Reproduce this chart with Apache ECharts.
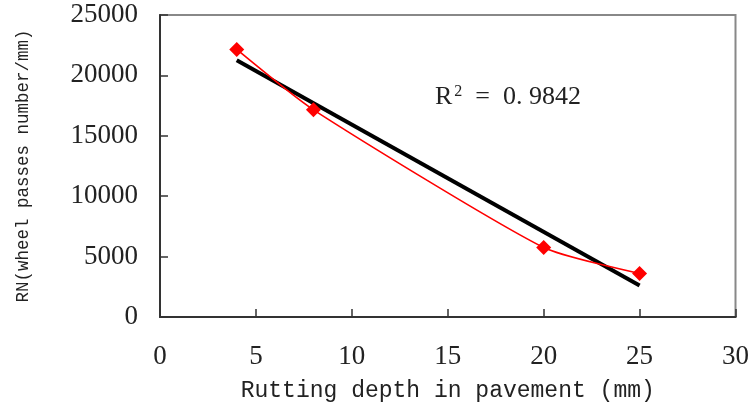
<!DOCTYPE html>
<html>
<head>
<meta charset="utf-8">
<script src="https://cdn.jsdelivr.net/npm/echarts@6/dist/echarts.min.js"></script>
<style>html,body{margin:0;padding:0;background:#fff;}#c{width:752px;height:409px;}</style>
</head>
<body>
<div id="c"></div>
<script>
var depth = [4, 8, 20, 25];
var passes = [22150, 17150, 5750, 3600];
var trendX = [4, 25];
var trendY = [21250, 2600];
var xTicks = [0, 30, 5];
var yTicks = [0, 25000, 5000];
var r2Text = '0. 9842';

var chart = echarts.init(document.getElementById('c'));
chart.setOption({
  animation: false,
  grid: { left: 160, right: 15, top: 15, bottom: 92, show: true, borderColor: '#888', borderWidth: 2 },
  xAxis: {
    type: 'value', min: xTicks[0], max: xTicks[1], interval: xTicks[2],
    name: 'Rutting depth in pavement (mm)', nameLocation: 'middle', nameGap: 62,
    nameTextStyle: { fontFamily: 'Liberation Mono', fontSize: 23, color: '#222' },
    axisLine: { lineStyle: { color: '#333', width: 2 } },
    axisTick: { inside: true, length: 8, lineStyle: { color: '#333', width: 1.5 } },
    axisLabel: { margin: 26, fontFamily: 'Liberation Serif', fontSize: 27, color: '#222' },
    splitLine: { show: false }
  },
  yAxis: {
    type: 'value', min: yTicks[0], max: yTicks[1], interval: yTicks[2],
    name: 'RN(wheel passes number/mm)', nameLocation: 'middle', nameGap: 128,
    nameTextStyle: { fontFamily: 'Liberation Mono', fontSize: 17.5, color: '#222' },
    axisLine: { lineStyle: { color: '#333', width: 2 } },
    axisTick: { inside: true, length: 8, lineStyle: { color: '#333', width: 1.5 } },
    axisLabel: { margin: 22, fontFamily: 'Liberation Serif', fontSize: 27, color: '#222',
      formatter: function (v) { return String(v); } },
    splitLine: { show: false }
  },
  series: [
    {
      type: 'line', data: depth.map(function (d, i) { return [d, passes[i]]; }),
      smooth: 0.2, symbol: 'diamond', symbolSize: 15,
      lineStyle: { color: '#ff0000', width: 1.6 },
      itemStyle: { color: '#ff0000' }, z: 3
    },
    {
      type: 'line', data: trendX.map(function (d, i) { return [d, trendY[i]]; }),
      symbol: 'none', lineStyle: { color: '#000', width: 4 }, z: 2
    }
  ],
  graphic: [{
    type: 'text', left: 435, top: 84,
    style: {
      text: '{r|R}{s|2}{r|  =  ' + r2Text + '}',
      rich: {
        r: { fontFamily: 'Liberation Serif', fontSize: 26, fill: '#222' },
        s: { fontFamily: 'Liberation Serif', fontSize: 16, fill: '#222', verticalAlign: 'top', padding: [0, 0, 10, 2] }
      }
    }
  }]
});
</script>
</body>
</html>
